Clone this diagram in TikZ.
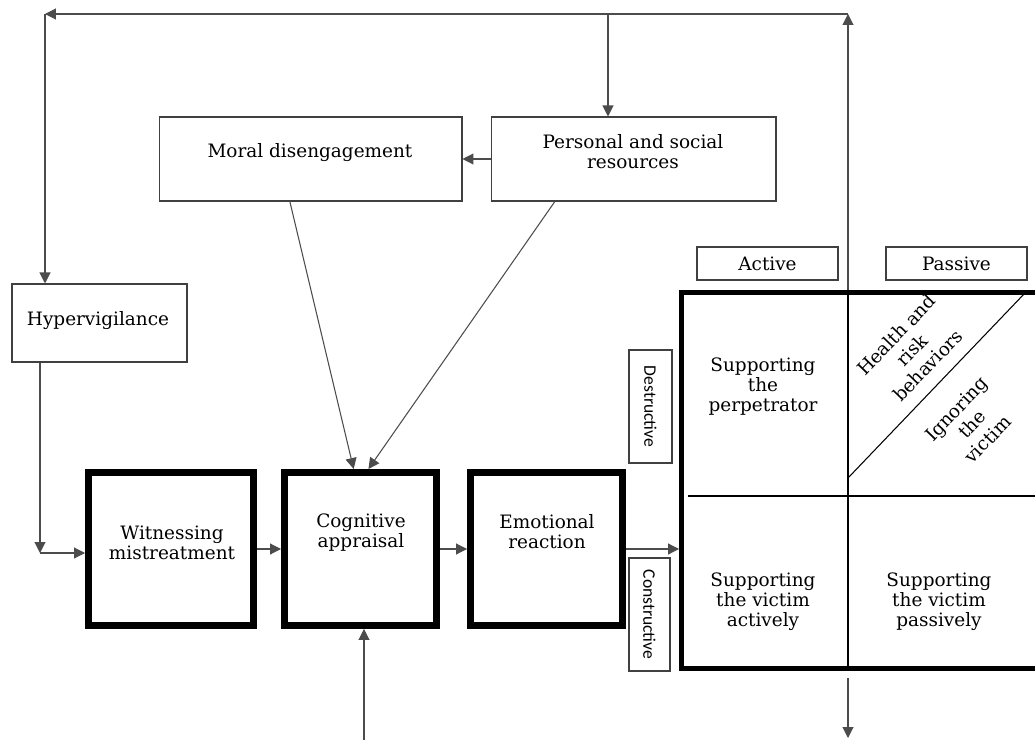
\documentclass[tikz,border=0pt]{standalone}
\usepackage{fontspec}
\setmainfont{DejaVu Serif}
\setsansfont{Carlito}
\usetikzlibrary{arrows.meta, calc, positioning}

\begin{document}
\begin{tikzpicture}[x=0.02cm, y=-0.02cm,
        font=\fontsize{10.5}{11.4}\selectfont,
        txt/.style={align=center, inner sep=0pt},
        box/.style={draw=black!75, line width=0.6pt, align=center, inner sep=0pt},
        heavy box/.style={draw=black, line width=0.14cm, minimum width=3.04cm, minimum height=3.06cm},
        side box/.style={box, rotate=-90, font=\sffamily\fontsize{10}{11}\selectfont, minimum width=2.26cm},
        arr/.style={draw=black!70, line width=0.6pt, -{Triangle[length=0.22cm, width=0.22cm]}}]
    \useasboundingbox (0,0) rectangle (1035,740);

    % upper boxes
    \node[box, minimum width=3.5cm, minimum height=1.56cm] (hyper) at (99.5,323) {};
    \node[txt] (hyper txt) at (98,321) {Hypervigilance};
    \node[box, minimum width=6.06cm, minimum height=1.68cm] (moral) at (310.5,159) {};
    \node[txt] (moral txt) at (310,153) {Moral disengagement};
    \node[box, minimum width=5.7cm, minimum height=1.68cm] (personal) at (633.5,159) {};
    \node[txt] (personal txt) at (633,152) {Personal and social\\resources};

    % main chain
    \node[heavy box, minimum width=3.3cm] (witness) at (171,549) {};
    \node[txt] (witness txt) at (172,543) {Witnessing\\mistreatment};
    \node[heavy box] (cog) at (360.5,549) {};
    \node[txt] (cog txt) at (361,533) {Cognitive\\appraisal};
    \node[heavy box] (emo) at (546.5,549) {};
    \node[txt] (emo txt) at (547,532) {Emotional\\reaction};

    % behaviour grid
    \node[draw, line width=0.1cm, minimum width=7.27cm, minimum height=7.52cm] (grid) at (863.25,480.5) {};
    \coordinate (mid) at (848,480);
    \coordinate (hmid) at (688,496);
    \draw[line width=0.6pt] (mid |- grid.north) -- (mid |- grid.south);
    \draw[line width=0.6pt] (hmid) -- (hmid -| grid.east);
    \draw[line width=0.6pt] (848,478) -- (1025,293);
    \node[box, minimum width=2.82cm, minimum height=0.66cm] (active) at (767.5,263.5) {Active};
    \node[box, minimum width=2.82cm, minimum height=0.66cm] (passive) at (956.5,263.5) {Passive};
    \node[side box, minimum height=0.86cm] (destr) at (650.5,406.5) {Destructive};
    \node[side box, minimum height=0.82cm] (constr) at (649.5,614.5) {Constructive};
    \node[txt] (perp) at (763,387) {Supporting\\the\\perpetrator};
    \node[txt] (victim act) at (763,602) {Supporting\\the victim\\actively};
    \node[txt] (victim pas) at (939,602) {Supporting\\the victim\\passively};
    \node[txt, rotate=46, font=\fontsize{10.5}{12.5}\selectfont] (health) at (912,350) {Health and\\risk\\behaviors};
    \node[txt, rotate=46, font=\fontsize{10.5}{12.5}\selectfont] (ignore) at (972,424) {Ignoring\\the\\victim};

    % connectors
    \coordinate (ne) at (848,14);
    \coordinate (nw) at (45,14);
    \coordinate (branch) at (608,14);
    \coordinate (corner) at (40,553);
    \coordinate (out top) at (848,678);
    \coordinate (out end) at (848,738);
    \coordinate (ext) at (364,740);

    \draw[arr] (mid |- grid.north) -- (ne);
    \draw[arr] (ne) -- (nw);
    \draw[arr] (nw) -- (nw |- hyper.north);
    \draw[arr] (branch) -- (branch |- personal.north);
    \draw[arr] (personal) -- (moral);
    \draw[arr] ($(moral.south west)!0.432!(moral.south east)$) -- ($(cog.north west)!0.457!(cog.north east)$);
    \draw[arr] ($(personal.south west)!0.225!(personal.south east)$) -- ($(cog.north west)!0.55!(cog.north east)$);
    \draw[arr] (hyper.south -| corner) -- (corner);
    \draw[arr] (corner) -- (corner -| witness.west);
    \draw[arr] (witness) -- (cog);
    \draw[arr] (cog) -- (emo);
    \draw[arr] (emo) -- (emo -| grid.west);
    \draw[arr] (ext) -- (ext |- cog.south);
    \draw[arr] (out top) -- (out end);
\end{tikzpicture}
\end{document}
